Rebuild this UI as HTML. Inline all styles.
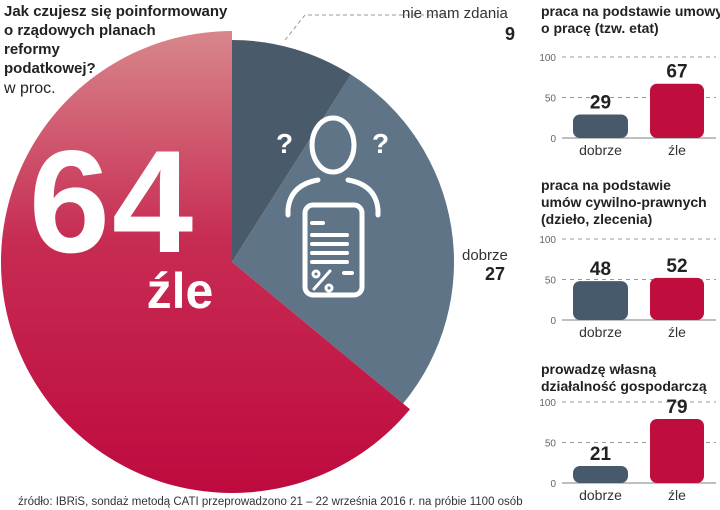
<!DOCTYPE html>
<html><head><meta charset="utf-8"><style>
body{margin:0;background:#fff;font-family:"Liberation Sans","DejaVu Sans",sans-serif;}
#wrap{position:relative;width:720px;height:510px;overflow:hidden;background:#fff;}
svg{position:absolute;left:0;top:0;}
</style></head><body>
<div id="wrap">
<svg id="pie" width="720" height="510">
<defs><linearGradient id="rg" x1="0" y1="0" x2="0" y2="1"><stop offset="0" stop-color="#d8868b"/><stop offset="0.45" stop-color="#c72c53"/><stop offset="1" stop-color="#be0a3e"/></linearGradient></defs>
</svg>
<svg id="bars" width="720" height="510"></svg>
</div>
<script>
const pieLabels=["nie mam zdania","dobrze","źle"];
const pieValues=[9,27,64];
const barCats=["dobrze","źle"];
const chartTitles=[["praca na podstawie umowy","o pracę (tzw. etat)"],["praca na podstawie","umów cywilno-prawnych","(dzieło, zlecenia)"],["prowadzę własną","działalność gospodarczą"]];
const chart1=[29,67];
const chart2=[48,52];
const chart3=[21,79];
const ticks=[0,50,100];

const NS="http://www.w3.org/2000/svg";
function mk(p,t,a,txt){const e=document.createElementNS(NS,t);for(const k in a)e.setAttribute(k,a[k]);if(txt!==undefined)e.textContent=txt;p.appendChild(e);return e;}
const pie=document.getElementById('pie');
const cx=232,cy=262;
function pt(r,f){const a=f*2*Math.PI;return [cx+r*Math.sin(a),cy-r*Math.cos(a)];}
function arc(r,f0,f1){const [x0,y0]=pt(r,f0),[x1,y1]=pt(r,f1);const lg=(f1-f0)>0.5?1:0;return `M${cx},${cy}L${x0},${y0}A${r},${r} 0 ${lg} 1 ${x1},${y1}Z`;}
const total=pieValues.reduce((a,b)=>a+b,0);
const cols=["#495a6b","#5f7487","url(#rg)"];
const radii=[222,222,231];
let acc=0;
pieValues.forEach((v,i)=>{const f0=acc/total,f1=(acc+v)/total;acc+=v;
 const p=mk(pie,'path',{d:arc(radii[i],f0,f1),fill:cols[i]});
 
 });
// icon
const ic=mk(pie,'g',{fill:'none',stroke:'#fff','stroke-width':5,'stroke-linecap':'round'});


mk(ic,'ellipse',{cx:333,cy:145,rx:21,ry:27});
mk(ic,'path',{d:'M318,180 Q290,185 288,210 L288,215 M348,180 Q376,185 378,210 L378,215'});
mk(ic,'rect',{x:305,y:205,width:57,height:90,rx:8});
mk(ic,'path',{d:'M312,223h11 M312,235h35 M312,244h35 M312,253h35 M312,262h35 M344,273h8','stroke-width':4});
mk(ic,'path',{d:'M314,289 L330,271','stroke-width':3});
mk(ic,'circle',{cx:316,cy:274,r:3,'stroke-width':3});mk(ic,'circle',{cx:329,cy:288,r:3,'stroke-width':3});
mk(ic,'text',{x:276,y:153,fill:'#fff',stroke:'none','font-size':28,'font-weight':'bold'},'?');
mk(ic,'text',{x:372,y:153,fill:'#fff',stroke:'none','font-size':28,'font-weight':'bold'},'?');
// text
let t=mk(pie,'text',{x:4,y:16,'font-size':15,'font-weight':'bold',fill:'#222'});
["Jak czujesz się poinformowany","o rządowych planach","reformy","podatkowej?"].forEach((s,i)=>mk(t,'tspan',{x:4,dy:i?19:0},s));
t=mk(pie,'text',{x:4,y:93,'font-size':16,fill:'#222'},'w proc.');
t=mk(pie,'text',{x:112,y:252,'font-size':146,'font-weight':'bold',fill:'#fff','text-anchor':'middle','letter-spacing':'2'},pieValues[2]);
t=mk(pie,'text',{x:180,y:308,'font-size':50,'font-weight':'bold',fill:'#fff','text-anchor':'middle'},pieLabels[2]);
mk(pie,'path',{d:'M285,40 L305,15 L450,15',fill:'none',stroke:'#999','stroke-dasharray':'4,3'});
t=mk(pie,'text',{x:402,y:18,'font-size':15,fill:'#333'},pieLabels[0]);
t=mk(pie,'text',{x:515,y:40,'font-size':18,'font-weight':'bold',fill:'#222','text-anchor':'end'},pieValues[0]);
t=mk(pie,'text',{x:462,y:260,'font-size':15,fill:'#333'},pieLabels[1]);
t=mk(pie,'text',{x:505,y:280,'font-size':18,'font-weight':'bold',fill:'#222','text-anchor':'end'},pieValues[1]);
t=mk(pie,'text',{x:18,y:505,'font-size':11.5,fill:'#333'},'źródło: IBRiS, sondaż metodą CATI przeprowadzono 21 – 22 września 2016 r. na próbie 1100 osób');

// bars
const bs=document.getElementById('bars');
const charts=[chart1,chart2,chart3];
const zeroY=[138,320,483],titleY=[16,190,374];
const bcol=["#475a6c","#bf0d3e"],bx=[573,650],bw=[55,54];
charts.forEach((vals,c)=>{
 const g=mk(bs,'g',{});
 const y=v=>zeroY[c]-v*0.81;
 const tt=mk(g,'text',{x:541,y:titleY[c],'font-size':14,'font-weight':'bold',fill:'#222'});
 
 chartTitles[c].forEach((s,i)=>mk(tt,'tspan',{x:541,dy:i?17:0},s));
 ticks.forEach(tv=>{
  mk(g,'line',{x1:562,x2:716,y1:y(tv),y2:y(tv),stroke:tv?'#999':'#aaa','stroke-dasharray':tv?'4,4':'none','stroke-width':tv?1:1.5});
  const tl=mk(g,'text',{x:556,y:y(tv)+4,'font-size':10,fill:'#666','text-anchor':'end'},tv);
  
 });
 vals.forEach((v,i)=>{
  const r=mk(g,'rect',{x:bx[i],y:y(v),width:bw[i],height:zeroY[c]-y(v),rx:7,fill:bcol[i]});
  
  const vl=mk(g,'text',{x:bx[i]+bw[i]/2,y:y(v)-6,'font-size':19,'font-weight':'bold',fill:'#222','text-anchor':'middle'},v);
  
  const cl=mk(g,'text',{x:bx[i]+bw[i]/2,y:zeroY[c]+17,'font-size':14,fill:'#333','text-anchor':'middle'},barCats[i]);
  
 });
});
</script>
</body></html>
